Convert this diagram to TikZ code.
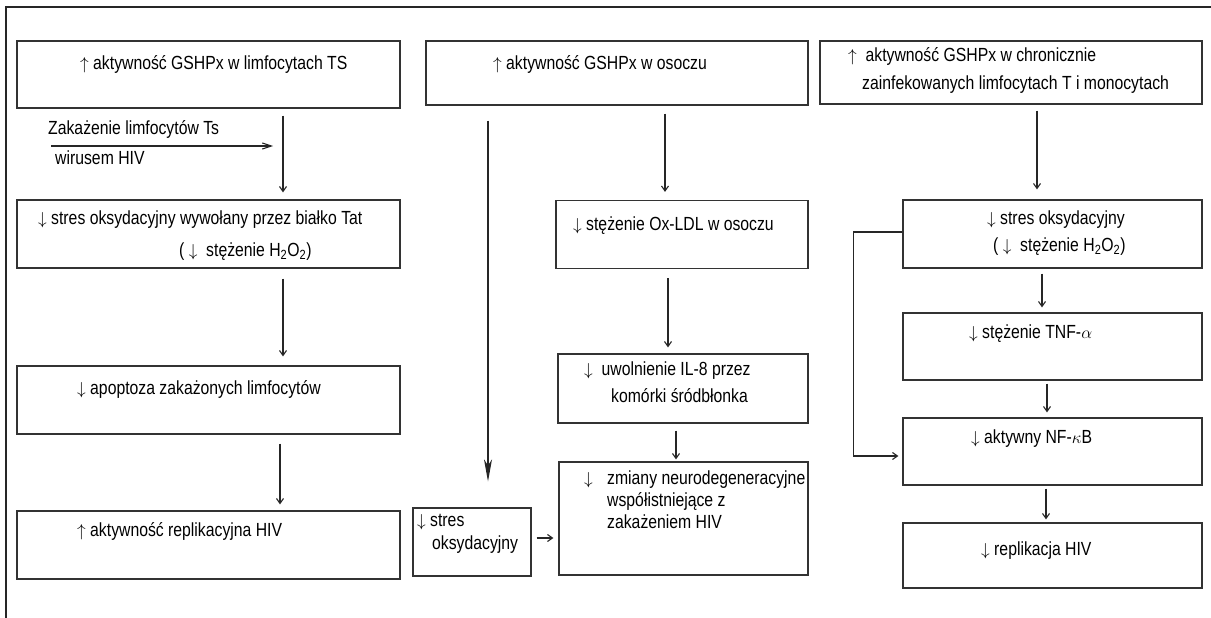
\documentclass[tikz,border=0pt]{standalone}
\usepackage{fontspec}
\setmainfont{Liberation Sans}[FakeStretch=0.83]
\usepackage{tikz}
\usetikzlibrary{arrows.meta,calc,positioning}
\tikzset{box/.style={draw=black!80,line width=1.2pt,inner sep=0pt,rectangle},
	txt/.style={inner sep=0pt,anchor=west,text height=13pt,text depth=0pt,font=\fontsize{19}{22}\selectfont},
	arr/.style={draw=black!85,line width=1.1pt,-{Straight Barb[length=5pt,width=7pt]}}}

\begin{document}
\begin{tikzpicture}[x=1pt,y=-1pt]
	\useasboundingbox (0,0) rectangle (1211,618);
	\draw[line width=1.3pt,black!85] (6,618) -- (6,7) -- (1211,7);
	
	% lewa kolumna
	\node[box,minimum width=383pt,minimum height=67pt] (a1) at (208.5,74.5) {};
	\node[box,minimum width=383pt,minimum height=68pt] (a2) at (208.5,234) {};
	\node[box,minimum width=383pt,minimum height=68pt] (a3) at (208.5,400) {};
	\node[box,minimum width=383pt,minimum height=68pt] (a4) at (208.5,545) {};
	\node[txt] (ta1) at (80,63) {$\uparrow$\ aktywność GSHPx w limfocytach TS};
	\node[txt] (tz1) at (48,128) {Zakażenie limfocytów Ts};
	\node[txt] (tz2) at (55,158) {wirusem HIV};
	\node[txt] (ta2) at (38,218) {$\downarrow$ stres oksydacyjny wywołany przez białko Tat};
	\node[txt] (ta2b) at (179,250) {( $\downarrow$\ \ stężenie H\textsubscript{2}O\textsubscript{2})};
	\node[txt] (ta3) at (77,388) {$\downarrow$ apoptoza zakażonych limfocytów};
	\node[txt] (ta4) at (77,530) {$\uparrow$ aktywność replikacyjna HIV};
	
	\coordinate (z0) at (51,146);
	\coordinate (z1) at (273,146);
	\draw[arr,-{Straight Barb[length=9pt,width=6pt]}] (z0) -- (z1);
	\coordinate (ka) at (283,0);
	\coordinate (kb) at (280,0);
	\draw[arr,shorten <=7pt,shorten >=7pt] (a1.south -| ka) -- (a2.north -| ka);
	\draw[arr,shorten <=10pt,shorten >=9pt] (a2.south -| ka) -- (a3.north -| ka);
	\draw[arr,shorten <=9pt,shorten >=6pt] (a3.south -| kb) -- (a4.north -| kb);
	
	% srodkowa kolumna
	\node[box,minimum width=382pt,minimum height=64pt] (b1) at (617,73) {};
	\node[box,minimum width=118pt,minimum height=68pt] (b2) at (472,542) {};
	\node[box,minimum width=252pt,minimum height=68pt] (b3) at (682,234.5) {};
	\node[box,minimum width=250pt,minimum height=69pt] (b4) at (683,388.5) {};
	\node[box,minimum width=249pt,minimum height=113pt] (b5) at (683.5,518.5) {};
	\node[txt] (tb1) at (493,63) {$\uparrow$ aktywność GSHPx w osoczu};
	\node[txt] (tb2) at (417,520) {$\downarrow$ stres};
	\node[txt] (tb2b) at (432,543) {oksydacyjny};
	\node[txt] (tb3) at (573,224) {$\downarrow$ stężenie Ox-LDL w osoczu};
	\node[txt] (tb4) at (584,369) {$\downarrow$\ \ uwolnienie IL-8 przez};
	\node[txt] (tb4b) at (611,396) {komórki śródbłonka};
	\node[txt] (tb5) at (584,478) {$\downarrow$};
	\node[txt] (tb5a) at (607,478) {zmiany neurodegeneracyjne};
	\node[txt] (tb5b) at (607,500) {współistniejące z};
	\node[txt] (tb5c) at (607,522) {zakażeniem HIV};
	
	\coordinate (kc) at (488,0);
	\coordinate (kd) at (665,0);
	\coordinate (ke) at (668,0);
	\coordinate (kf) at (676,0);
	\coordinate (kg) at (0,538);
	\draw[arr,-{Stealth[length=22pt,width=8pt,inset=6pt]},shorten <=15pt,shorten >=26pt] (b1.south -| kc) -- (b2.north -| kc);
	\draw[arr,shorten <=8pt,shorten >=8pt] (b1.south -| kd) -- (b3.north -| kd);
	\draw[arr,shorten <=9pt,shorten >=6pt] (b3.south -| ke) -- (b4.north -| ke);
	\draw[arr,shorten <=7pt,shorten >=2pt] (b4.south -| kf) -- (b5.north -| kf);
	\draw[arr,shorten <=5pt,shorten >=5pt] (b2.east |- kg) -- (b5.west |- kg);
	
	% prawa kolumna
	\node[box,minimum width=382pt,minimum height=63pt] (c1) at (1011,72.5) {};
	\node[box,minimum width=299pt,minimum height=68pt] (c2) at (1052.5,234) {};
	\node[box,minimum width=299pt,minimum height=67pt] (c3) at (1052.5,346.5) {};
	\node[box,minimum width=299pt,minimum height=67pt] (c4) at (1052.5,451.5) {};
	\node[box,minimum width=299pt,minimum height=65pt] (c5) at (1052.5,555.5) {};
	\node[txt] (tc1) at (848,55) {$\uparrow$\ \ aktywność GSHPx w chronicznie};
	\node[txt] (tc1b) at (862,83) {zainfekowanych limfocytach T i monocytach};
	\node[txt] (tc2) at (987,218) {$\downarrow$ stres oksydacyjny};
	\node[txt] (tc2b) at (993,245) {( $\downarrow$\ \ stężenie H\textsubscript{2}O\textsubscript{2})};
	\node[txt] (tc3) at (969,332) {$\downarrow$ stężenie TNF-$\alpha$};
	\node[txt] (tc4) at (971,437) {$\downarrow$\ aktywny NF-$\kappa$B};
	\node[txt] (tc5) at (981,549) {$\downarrow$\ replikacja HIV};
	
	\coordinate (kh) at (1037,0);
	\coordinate (ki) at (1042,0);
	\coordinate (kj) at (1047,0);
	\coordinate (kk) at (1046,0);
	\draw[arr,shorten <=6pt,shorten >=10pt] (c1.south -| kh) -- (c2.north -| kh);
	\draw[arr,shorten <=5pt,shorten >=5pt] (c2.south -| ki) -- (c3.north -| ki);
	\draw[arr,shorten <=3pt,shorten >=5pt] (c3.south -| kj) -- (c4.north -| kj);
	\draw[arr,shorten <=3pt,shorten >=3pt] (c4.south -| kk) -- (c5.north -| kk);
	\draw[arr,shorten >=4pt] ([yshift=2pt]c2.west) -- ++(-49pt,0) |- ([yshift=-4.5pt]c4.west);
\end{tikzpicture}
\end{document}
